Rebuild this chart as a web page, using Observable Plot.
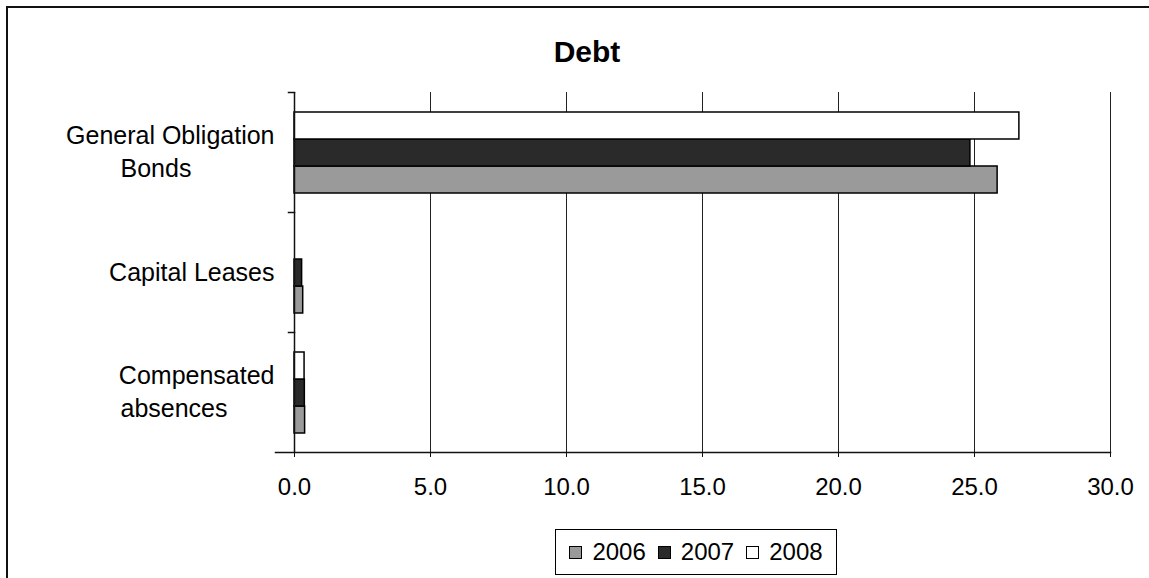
<!DOCTYPE html>
<html>
<head>
<meta charset="utf-8">
<script src="https://cdn.jsdelivr.net/npm/d3@7"></script>
<script src="https://cdn.jsdelivr.net/npm/@observablehq/plot@0.6"></script>
<style>
  html, body { margin: 0; padding: 0; background: #fff; }
  #page { position: relative; width: 1149px; height: 578px; overflow: hidden; font-family: "Liberation Sans", Arial, sans-serif; }
  #border { position: absolute; left: 6px; top: 6px; right: -10px; bottom: -10px; border-left: 2px solid #111; border-top: 2px solid #111; }
  #chart { position: absolute; left: 0; top: 0; }
  #title { position: absolute; left: 487px; top: 37px; width: 200px; text-align: center; font-size: 30px; line-height: 30px; font-weight: bold; color: #000; }
  #legend { position: absolute; left: 555px; top: 529px; width: 282px; height: 46px; box-sizing: border-box; border: 1px solid #000; display: flex; align-items: center; justify-content: center; font-size: 24px; color: #000; }
  .item { display: flex; align-items: center; margin: 0 6px; }
  .sw { width: 11px; height: 11px; border: 1px solid #000; margin-right: 10px; }
</style>
</head>
<body>
<div id="page">
  <div id="border"></div>
  <div id="chart"></div>
  <div id="title"></div>
  <div id="legend"></div>
</div>
<script>
// ---- data ----
const title = "Debt";
const categories = ["General Obligation Bonds", "Capital Leases", "Compensated absences"];
const firstLines = ["General Obligation", "Capital Leases", "Compensated"];
const secondLines = ["Bonds", "", "absences"];
const years = ["2006", "2007", "2008"];
const values2006 = [25.85, 0.32, 0.39];
const values2007 = [24.85, 0.28, 0.38];
const values2008 = [26.65, 0, 0.37];
const xTicks = [0, 5, 10, 15, 20, 25, 30];
const yearColors = ["#9a9a9a", "#2a2a2a", "#ffffff"];

// ---- table ----
const seriesValues = [values2006, values2007, values2008];
const rows = [];
categories.forEach((c, i) => {
  years.forEach((y, j) => rows.push({category: c, year: y, value: seriesValues[j][i]}));
});
const labels = categories.map((c, i) => ({category: c, line1: firstLines[i], line2: secondLines[i]}));
const twoLine = labels.filter(d => d.line2 !== "");
const oneLine = labels.filter(d => d.line2 === "");

const chart = Plot.plot({
  width: 1149,
  height: 500,
  marginTop: 92,
  marginBottom: 48,
  marginLeft: 294,
  marginRight: 39,
  style: {fontFamily: "Liberation Sans, Arial, sans-serif", fontSize: "24px", background: "transparent", color: "#000"},
  x: {domain: [0, 30], ticks: xTicks, tickFormat: d3.format(".1f"), tickSize: 5, tickPadding: 20, label: null},
  y: {domain: ["2008", "2007", "2006"], paddingInner: 0, paddingOuter: 0.7, axis: null},
  fy: {domain: categories, padding: 0, axis: null},
  color: {domain: years, range: yearColors},
  marks: [
    Plot.gridX({ticks: xTicks.slice(1), stroke: "#222", strokeOpacity: 1, strokeWidth: 1}),
    Plot.barX(rows, {fy: "category", y: "year", x: "value", fill: "year", stroke: "#000", strokeWidth: 1.5}),
    Plot.ruleX([0], {stroke: "#111", strokeWidth: 1.5}),
    Plot.frame({anchor: "top", insetLeft: -6, insetRight: 816, stroke: "#111", strokeWidth: 1.5}),
    Plot.frame({anchor: "bottom", facet: "super", insetLeft: -19, stroke: "#111", strokeWidth: 1.5}),
    Plot.axisX({ticks: xTicks, tickFormat: d3.format(".1f"), tickSize: 5, tickPadding: 20, fontSize: 24, stroke: "#111"}),
    Plot.text(twoLine, {fy: "category", text: "line1", frameAnchor: "left", textAnchor: "end", dx: -20, dy: -17, fontSize: 25, fill: "#000"}),
    Plot.text(twoLine, {fy: "category", text: "line2", frameAnchor: "left", textAnchor: "start", dx: -174, dy: 16, fontSize: 25, fill: "#000"}),
    Plot.text(oneLine, {fy: "category", text: "line1", frameAnchor: "left", textAnchor: "end", dx: -20, fontSize: 25, fill: "#000"})
  ]
});
document.getElementById("chart").appendChild(chart);
document.getElementById("title").textContent = title;

const legend = document.getElementById("legend");
years.forEach((y, i) => {
  const it = document.createElement("div");
  it.className = "item";
  const sw = document.createElement("span");
  sw.className = "sw";
  sw.style.background = yearColors[i];
  const t = document.createElement("span");
  t.textContent = y;
  it.appendChild(sw);
  it.appendChild(t);
  legend.appendChild(it);
});
</script>
</body>
</html>
